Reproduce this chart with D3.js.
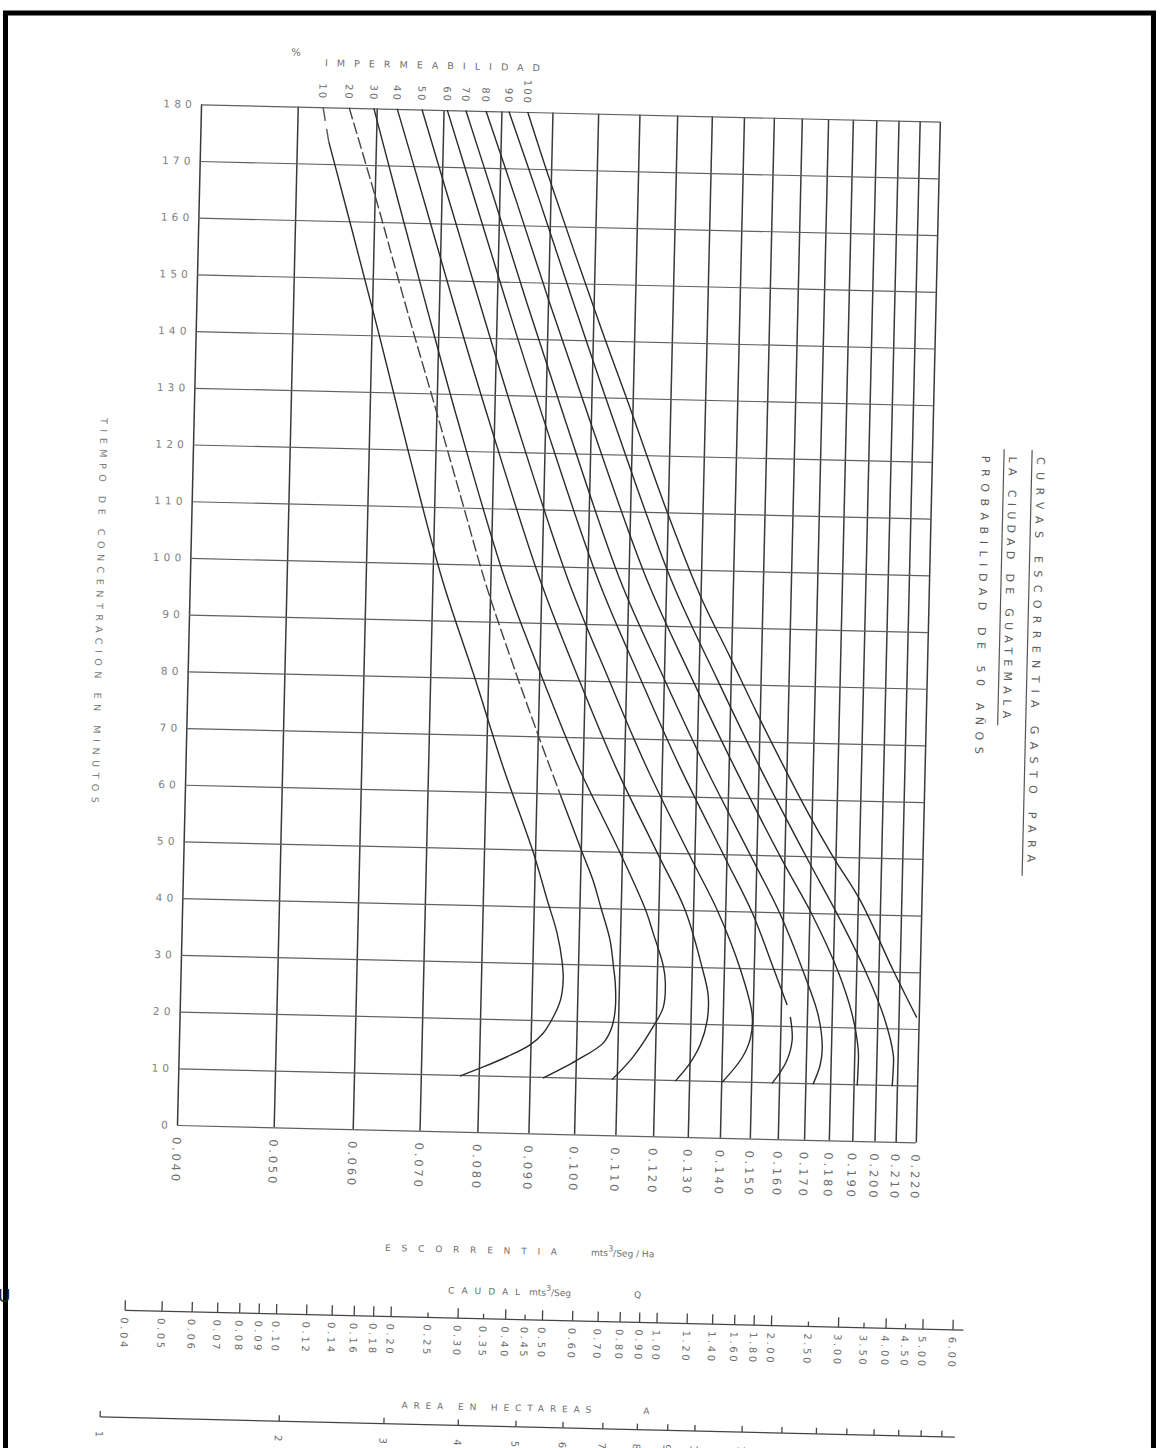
<!DOCTYPE html>
<html>
<head>
<meta charset="utf-8">
<script src="https://cdnjs.cloudflare.com/ajax/libs/d3/7.8.5/d3.min.js"></script>
<style>
  html, body { margin: 0; padding: 0; background: #fff; }
  svg { display: block; }
  text { font-family: "DejaVu Sans", "Liberation Sans", sans-serif; }
</style>
</head>
<body>
<svg id="chart" width="1160" height="1448"></svg>
<script>
// ---- axis values ----
const escTicks  = [0.040,0.050,0.060,0.070,0.080,0.090,0.100,0.110,0.120,0.130,0.140,0.150,0.160,0.170,0.180,0.190,0.200,0.210,0.220];
const escLabels = ["0.040","0.050","0.060","0.070","0.080","0.090","0.100","0.110","0.120","0.130","0.140","0.150","0.160","0.170","0.180","0.190","0.200","0.210","0.220"];
const timeTicks = [0,10,20,30,40,50,60,70,80,90,100,110,120,130,140,150,160,170,180];
const impermeabilidad = [10,20,30,40,50,60,70,80,90,100];

// caudal (Q) nomogram scale
const caudalTicks  = [0.04,0.05,0.06,0.07,0.08,0.09,0.10,0.12,0.14,0.16,0.18,0.20,0.25,0.30,0.35,0.40,0.45,0.50,0.60,0.70,0.80,0.90,1.00,1.20,1.40,1.60,1.80,2.00,2.50,3.00,3.50,4.00,4.50,5.00,6.00];
const caudalLabels = ["0.04","0.05","0.06","0.07","0.08","0.09","0.10","0.12","0.14","0.16","0.18","0.20","0.25","0.30","0.35","0.40","0.45","0.50","0.60","0.70","0.80","0.90","1.00","1.20","1.40","1.60","1.80","2.00","2.50","3.00","3.50","4.00","4.50","5.00","6.00"];
const caudalShort  = [0.25,0.35,0.45,2.50,3.50,4.50];

// area (A) nomogram scale
const areaTicks  = [1,2,3,4,5,6,7,8,9,10,12,14,16,18,20,22,24,26];
const areaLabels = ["1","2","3","4","5","6","7","8","9","10","12","14","16","18","20","22","24","26"];

// ---- curves: [escorrentia m3/s/ha, tiempo de concentracion min] ----
const imp10 = [[0.0530,180],[0.0538,174],[0.0571,158.2],[0.0611,140],[0.0660,118.6],[0.0716,97.2],[0.0777,79.7],[0.0832,64.5],[0.0896,49.6],[0.0928,41.2],[0.0951,35.4],[0.0964,30.2],[0.0967,27.2],[0.0962,23.6],[0.0947,20.6],[0.0926,17.7],[0.0899,15.6],[0.0853,13.4],[0.0808,11.5],[0.0766,9.8]];
const imp20 = [[0.0563,180],[0.0601,164.4],[0.0647,145.9],[0.0698,127.5],[0.0748,110.5],[0.0789,97.4],[0.0834,85.6],[0.0899,70.6],[0.0951,59.8],[0.1003,49.8],[0.1030,44.9],[0.1051,40.0],[0.1075,34.4],[0.1085,29.8],[0.1091,26.5],[0.1092,22.1],[0.1084,18.9],[0.1064,16.2],[0.1003,13.1],[0.0928,9.8]];
const imp30 = [[0.0596,180],[0.0633,164.0],[0.0677,146.5],[0.0735,125.5],[0.0828,97.4],[0.0908,80.0],[0.0990,64.8],[0.1095,49.8],[0.1164,40.0],[0.1187,35.8],[0.1217,30.1],[0.1224,27.2],[0.1220,22.8],[0.1193,19.3],[0.1141,13.9],[0.1088,9.8]];
const imp40 = [[0.0629,180],[0.0672,164.1],[0.0722,146.6],[0.0790,125.6],[0.0897,97.6],[0.0987,80.1],[0.1079,64.9],[0.1196,49.6],[0.1276,40.0],[0.1331,30.0],[0.1352,25.1],[0.1351,20.7],[0.1331,16.3],[0.1302,13.1],[0.1259,9.8]];
const imp50 = [[0.0666,180],[0.0712,164.2],[0.0767,146.7],[0.0840,125.7],[0.0957,97.7],[0.1057,80.3],[0.1158,65.1],[0.1288,49.4],[0.1377,39.8],[0.1454,29.8],[0.1498,21.8],[0.1494,17.7],[0.1467,14.2],[0.1403,9.8]];
const imp60 = [[0.0706,180],[0.0756,164.3],[0.0816,146.8],[0.0897,125.8],[0.1026,97.8],[0.1138,80.4],[0.1251,65.2],[0.1396,49.3],[0.1490,39.8],[0.1572,29.8],[0.1623,23.7],null,[0.1636,21.6],[0.1645,17.5],[0.1624,13.6],[0.1574,9.8]];
const imp70 = [[0.0737,180],[0.0791,164.4],[0.0855,146.9],[0.0942,125.9],[0.1079,97.9],[0.1202,80.5],[0.1327,65.3],[0.1486,49.3],[0.1589,39.7],[0.1681,29.7],[0.1744,22.1],[0.1764,16.4],[0.1757,13.2],[0.1730,9.8]];
const imp80 = [[0.0772,180],[0.0831,164.5],[0.0901,147],[0.0997,126],[0.1148,98],[0.1282,80.6],[0.1419,65.4],[0.1592,49.2],[0.1711,39.7],[0.1823,29.7],[0.1887,22.2],[0.1917,16.0],[0.1918,12.5],[0.1916,9.8]];
const imp90 = [[0.0814,180],[0.0877,164.6],[0.0952,147.1],[0.1053,126.1],[0.1214,98.1],[0.1358,80.7],[0.1504,65.5],[0.1691,49.2],[0.1817,39.6],[0.1944,29.7],[0.2032,21.8],[0.2079,15.3],[0.2080,12.7],[0.2077,9.8]];
const imp100 = [[0.0850,180],[0.0896,168.5],[0.1016,142.7],[0.1088,129.3],[0.1198,110.1],[0.1298,95.6],[0.1396,84.8],[0.1490,75.0],[0.1583,66.3],[0.1686,57.6],[0.1790,50.0],[0.1909,42.5],[0.2068,30.3],[0.2190,22.0]];

const curves = [imp10, imp20, imp30, imp40, imp50, imp60, imp70, imp80, imp90, imp100];

// ---- layout ----
const svg = d3.select("#chart");
const left = 177, bottom = 1125, plotW = 739, plotH = 1021;
const tilt = 1.35;                       // the sheet sits slightly skewed

const x = d3.scaleLog().domain([0.04, 0.22]).range([left, left + plotW]);
const y = d3.scaleLinear().domain([0, 180]).range([bottom, bottom - plotH]);
const xq = d3.scaleLog().domain([0.04, 6]).range([129.5, 957.6]);
const xa = d3.scaleLog().domain([1, 10]).range([107, 702]);

const ink = "#2b2b2b", gridInk = "#3a3a3a", hInk = "#606060", textInk = "#6e6e6e";

const g = svg.append("g").attr("transform", `rotate(${tilt},${left},${bottom})`);

// vertical grid (escorrentia)
g.append("g")
  .attr("transform", `translate(0,${y(0)})`)
  .call(d3.axisBottom(x).tickValues(escTicks).tickSize(-(y(0) - y(180))).tickFormat(""))
  .call(a => a.select(".domain").remove())
  .call(a => a.selectAll("line").attr("stroke", gridInk).attr("stroke-width", 1.5));

// horizontal grid (tiempo)
g.append("g")
  .attr("transform", `translate(${x(0.04)},0)`)
  .call(d3.axisLeft(y).tickValues(timeTicks).tickSize(-(x(0.22) - x(0.04))).tickFormat(""))
  .call(a => a.select(".domain").remove())
  .call(a => a.selectAll("line").attr("stroke", hInk).attr("stroke-width", 1.2));

// time labels
g.append("g").selectAll("text").data(timeTicks).join("text")
  .attr("x", 172).attr("y", d => y(d)).attr("dy", "0.36em")
  .attr("text-anchor", "end")
  .attr("font-size", 10.5).attr("letter-spacing", 4.2)
  .attr("fill", "#808080")
  .text(d => String(d));

// escorrentia labels (vertical)
g.append("g").selectAll("text").data(escTicks).join("text")
  .attr("transform", d => `translate(${x(d) - 4},${bottom + 12}) rotate(90)`)
  .attr("font-size", 11.5).attr("letter-spacing", 2.8)
  .attr("fill", textInk)
  .text((d, i) => escLabels[i]);

// curve family
const line = d3.line()
  .defined(d => d !== null)
  .x(d => x(d[0])).y(d => y(d[1]))
  .curve(d3.curveCatmullRom.alpha(0.5));

const cg = g.append("g").attr("fill", "none").attr("stroke", ink).attr("stroke-width", 1.4);
curves.forEach((c, i) => {
  if (i === 1) {
    // upper stretch of the 20 % curve is broken
    cg.append("path").attr("d", line(c.filter(p => p[1] >= 55))).attr("stroke-dasharray", "12,3.5").attr("stroke", "#444");
    cg.append("path").attr("d", line(c.filter(p => p[1] <= 60)));
  } else if (i === 0) {
    cg.append("path").attr("d", line(c.filter(p => p[1] >= 170))).attr("stroke-dasharray", "14,8").attr("stroke", "#555");
    cg.append("path").attr("d", line(c.filter(p => p[1] <= 175)));
  } else {
    cg.append("path").attr("d", line(c));
  }
});

// impermeability labels at the head of each curve
g.append("g").selectAll("text").data(impermeabilidad).join("text")
  .attr("transform", (d, i) => `translate(${x(curves[i][0][0]) - 4},${y(180) - 7}) rotate(90)`)
  .attr("text-anchor", "end")
  .attr("font-size", 10).attr("letter-spacing", 2)
  .attr("fill", textInk)
  .text(d => String(d));

g.append("text").attr("x", 266).attr("y", 53)
  .attr("font-size", 10).attr("fill", textInk).text("%");
g.append("text").attr("x", 300).attr("y", 63)
  .attr("font-size", 9.5).attr("fill", textInk)
  .attr("textLength", 215).attr("lengthAdjust", "spacing")
  .text("IMPERMEABILIDAD");

// axis titles
g.append("text").attr("transform", "translate(84,420) rotate(90)")
  .attr("font-size", 9.5).attr("fill", "#7a7a7a")
  .attr("textLength", 385).attr("lengthAdjust", "spacing")
  .text("TIEMPO DE CONCENTRACION EN MINUTOS");

const xt = g.append("text").attr("x", 388).attr("y", 1246).attr("font-size", 9).attr("fill", textInk);
xt.append("tspan").attr("textLength", 172).attr("lengthAdjust", "spacing").text("ESCORRENTIA");
xt.append("tspan").attr("x", 594).text("mts");
xt.append("tspan").attr("dy", -5).attr("font-size", 8).text("3");
xt.append("tspan").attr("dy", 5).text("/Seg / Ha");

// sheet title
const tg = g.append("g").attr("fill", "#5e5e5e").attr("font-size", 11);
tg.append("text").attr("transform", "translate(1021,437) rotate(90)")
  .attr("textLength", 405).attr("lengthAdjust", "spacing").text("CURVAS ESCORRENTIA GASTO PARA");
tg.append("text").attr("transform", "translate(993,437) rotate(90)")
  .attr("textLength", 262).attr("lengthAdjust", "spacing").text("LA CIUDAD DE GUATEMALA");
tg.append("text").attr("transform", "translate(966,437) rotate(90)")
  .attr("textLength", 298).attr("lengthAdjust", "spacing").text("PROBABILIDAD DE 50 AÑOS");
g.append("line").attr("x1", 1016).attr("x2", 1016).attr("y1", 430).attr("y2", 856).attr("stroke", "#555").attr("stroke-width", 1.2);
g.append("line").attr("x1", 988).attr("x2", 988).attr("y1", 430).attr("y2", 706).attr("stroke", "#555").attr("stroke-width", 1.2);

// ---- caudal scale ----
const qy = 1311.5;
const qg = g.append("g");
qg.append("line").attr("x1", xq(0.04)).attr("x2", 968).attr("y1", qy).attr("y2", qy)
  .attr("stroke", "#444").attr("stroke-width", 1.3);
qg.selectAll("line.t").data(caudalTicks).join("line").attr("class", "t")
  .attr("x1", d => xq(d)).attr("x2", d => xq(d))
  .attr("y1", qy).attr("y2", d => qy - (caudalShort.includes(d) ? 5 : 10))
  .attr("stroke", "#444").attr("stroke-width", 1.3);
qg.selectAll("text").data(caudalTicks).join("text")
  .attr("transform", d => `translate(${xq(d) - 4},${qy + 7}) rotate(90)`)
  .attr("font-size", 10).attr("letter-spacing", 2.6).attr("fill", textInk)
  .text((d, i) => caudalLabels[i]);
const qt = g.append("text").attr("x", 452).attr("y", 1287).attr("font-size", 9).attr("fill", textInk);
qt.append("tspan").attr("textLength", 72).attr("lengthAdjust", "spacing").text("CAUDAL");
qt.append("tspan").attr("x", 530).text(" mts");
qt.append("tspan").attr("dy", -5).attr("font-size", 8).text("3");
qt.append("tspan").attr("dy", 5).text("/Seg");
g.append("text").attr("x", 638).attr("y", 1287).attr("font-size", 9).attr("fill", textInk).text("Q");

// ---- area scale (its figures run off the lower edge of the sheet) ----
const ay = 1418.7;
const ag = g.append("g");
ag.append("line").attr("x1", xa(1)).attr("x2", 962).attr("y1", ay).attr("y2", ay)
  .attr("stroke", "#444").attr("stroke-width", 1.3);
ag.selectAll("line.t").data(areaTicks).join("line").attr("class", "t")
  .attr("x1", d => xa(d)).attr("x2", d => xa(d))
  .attr("y1", ay).attr("y2", ay - 6)
  .attr("stroke", "#444").attr("stroke-width", 1.3);
ag.selectAll("text").data(areaTicks).join("text")
  .attr("transform", d => `translate(${xa(d) - 4},${ay + 14}) rotate(90)`)
  .attr("font-size", 10).attr("letter-spacing", 2.2).attr("fill", textInk)
  .text((d, i) => areaLabels[i]);
const at = g.append("text").attr("x", 408).attr("y", 1403).attr("font-size", 9).attr("fill", textInk);
at.append("tspan").attr("textLength", 190).attr("lengthAdjust", "spacing").text("AREA EN HECTAREAS");
g.append("text").attr("x", 650).attr("y", 1403).attr("font-size", 9).attr("fill", textInk).text("A");

// ---- frame ----
svg.append("rect").attr("x", 5.5).attr("y", 13).attr("width", 1148).attr("height", 1500)
  .attr("fill", "none").attr("stroke", "#000").attr("stroke-width", 5);
svg.append("text").attr("x", -2).attr("y", 1302).attr("font-size", 17).attr("fill", "#222").text("U");
</script>
</body>
</html>
